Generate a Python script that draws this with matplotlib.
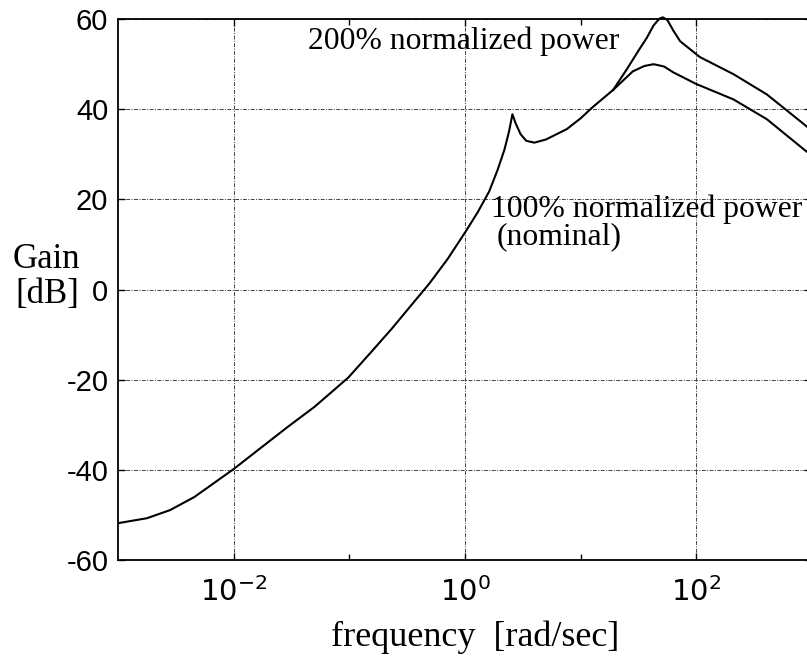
import matplotlib
matplotlib.use('Agg')
import matplotlib.pyplot as plt
import numpy as np

# frequency [rad/sec] and gain [dB]
f_common = [0.001, 0.00178, 0.00282, 0.00457, 0.00676, 0.01, 0.0186, 0.0295, 0.050,
            0.098, 0.155, 0.234, 0.355, 0.490, 0.708, 1.02, 1.29, 1.62, 1.91, 2.19,
            2.40, 2.57, 2.75, 3.02, 3.39, 3.98, 5.01, 7.59, 10.0, 12.6, 19.1]
g_common = [-51.8, -50.7, -48.9, -46.0, -42.9, -39.8, -34.4, -30.4, -26.0,
            -19.5, -13.8, -8.6, -3.0, 1.3, 6.8, 13.0, 17.2, 21.8, 26.5, 31.0,
            35.0, 38.9, 36.8, 34.5, 33.0, 32.6, 33.3, 35.6, 38.0, 40.4, 44.3]

f_100 = [19.1, 28.2, 35.5, 42.7, 52.5, 63.1, 100, 209, 407, 851, 1000]
g_100 = [44.3, 48.4, 49.6, 50.0, 49.5, 48.2, 45.6, 42.2, 37.8, 31.1, 29.7]

f_200 = [19.1, 25.1, 31.6, 37.2, 42.7, 47.9, 51.3, 56.2, 63.1, 72.4, 107, 209, 407, 851, 1000]
g_200 = [44.3, 48.9, 53.0, 55.8, 58.6, 60.1, 60.4, 59.8, 57.5, 55.1, 51.6, 47.8, 43.3, 36.7, 35.2]

yticks = [-60, -40, -20, 0, 20, 40, 60]
xticks = [1e-2, 1e0, 1e2]
xticklabels = [r'$10^{-2}$', r'$10^{0}$', r'$10^{2}$']

plt.rcParams['axes.unicode_minus'] = False
plt.rcParams['mathtext.fontset'] = 'custom'
plt.rcParams['mathtext.rm'] = 'Liberation Sans'
plt.rcParams['mathtext.it'] = 'Liberation Sans'
plt.rcParams['mathtext.default'] = 'regular'

fig = plt.figure(figsize=(8.07, 6.59), dpi=100)
ax = fig.add_axes([0.1462, 0.150, 0.860, 0.821])

ax.plot(f_common, g_common, c='k', lw=1.5)
ax.plot(f_100, g_100, c='k', lw=1.5)
ax.plot(f_200, g_200, c='k', lw=1.5, clip_on=False)

ax.set_xscale('log')
ax.set_xlim(1e-3, 1e3)
ax.set_ylim(-60, 60)
ax.set_xticks(xticks)
ax.set_xticklabels(xticklabels)
ax.set_xticks([1e-1, 1e1], minor=True)
ax.xaxis.set_minor_formatter(matplotlib.ticker.NullFormatter())
ax.set_yticks(yticks)

for lbl in ax.get_yticklabels():
    lbl.set_family('Liberation Sans')
ax.tick_params(axis='both', which='major', direction='in', length=5, width=1,
               labelsize=21, top=True, right=True)
ax.tick_params(axis='x', which='minor', direction='in', length=4, width=1, top=True)
ax.tick_params(axis='x', which='major', pad=12)
ax.tick_params(axis='y', which='major', pad=7)

ax.grid(True, which='major', color='0.25', lw=0.7, ls=(0, (4, 1.5, 1, 1.5)))
for sp in ax.spines.values():
    sp.set_linewidth(1.3)

serif = 'Liberation Serif'
ax.text(0.044, 55.0, '200% normalized power', family=serif, fontsize=22.8, va='center')
ax.text(1.68, 17.8, '100% normalized power', family=serif, fontsize=22.8, va='center')
ax.text(1.86, 11.8, '(nominal)', family=serif, fontsize=22.8, va='center')

fig.text(46 / 807, 1 - 259 / 659, 'Gain', family=serif, fontsize=25, ha='center', va='center')
fig.text(47 / 807, 1 - 295 / 659, '[dB]', family=serif, fontsize=25, ha='center', va='center')
fig.text(475 / 807, 1 - 637 / 659, 'frequency  [rad/sec]', family=serif, fontsize=26,
         ha='center', va='center')

plt.savefig('out.png', dpi=100)
